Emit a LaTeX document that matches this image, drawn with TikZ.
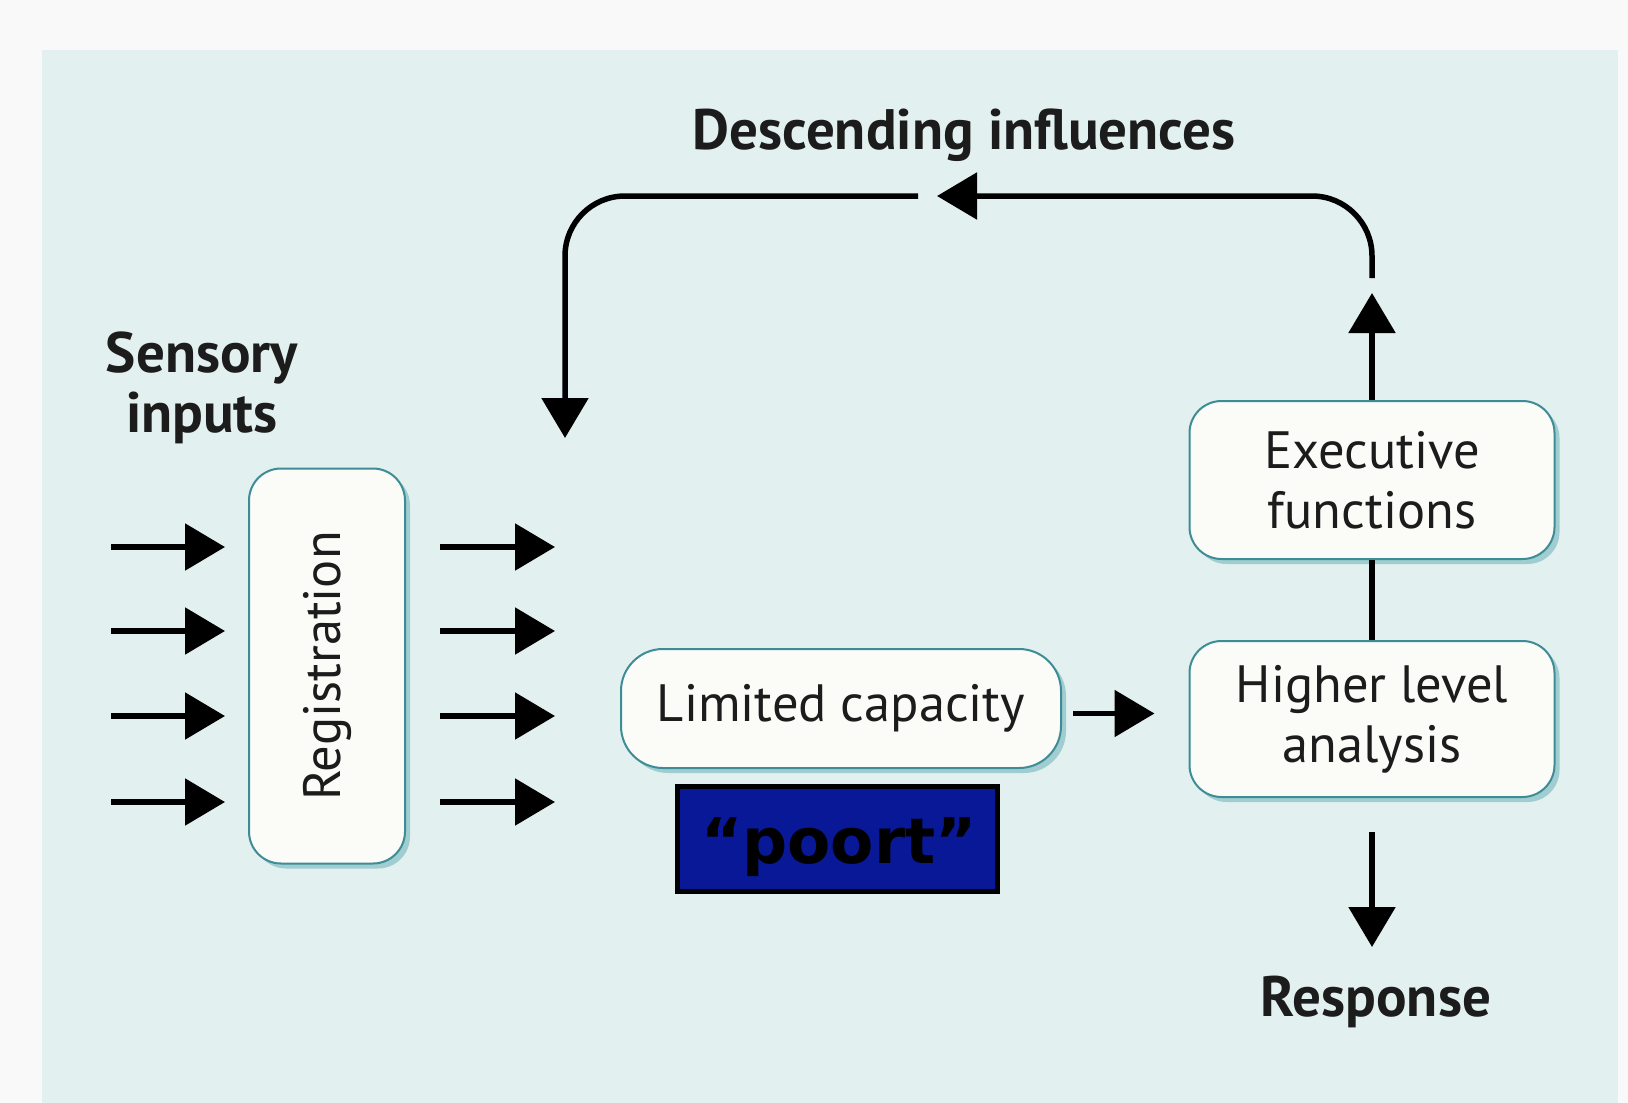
\documentclass[tikz,border=0pt]{standalone}
\usepackage{fontspec}
\setmainfont{PT Sans}
\newfontfamily\poortfont{DejaVu Sans}
\usetikzlibrary{arrows.meta,shadows}
\definecolor{panelc}{RGB}{226,240,239}
\definecolor{outerc}{RGB}{249,249,249}
\definecolor{boxfill}{RGB}{251,251,248}
\definecolor{boxborder}{RGB}{62,140,150}
\definecolor{shadowc}{RGB}{160,205,208}
\definecolor{txt}{RGB}{28,28,28}
\definecolor{poortblue}{RGB}{8,24,150}
\tikzset{
  procbox/.style={draw=boxborder, line width=2pt, fill=boxfill, rounded corners=32pt,
    align=center, inner sep=0pt, text=txt, font=\fontsize{52.5}{60}\selectfont,
    drop shadow={shadow xshift=5pt, shadow yshift=-5pt, fill=shadowc, opacity=1}},
  conn/.style={line width=5.5pt, draw=black},
  arr/.style={conn, -{Triangle[length=40pt,width=46pt]}},
  lbl/.style={font=\bfseries\fontsize{57}{60}\selectfont, align=center, text=txt},
}
\begin{document}
\begin{tikzpicture}[x=1pt,y=-1pt]
\useasboundingbox (0,0) rectangle (1628,1103);
\fill[outerc] (0,0) rectangle (1628,1103);
\fill[panelc] (42,50) rectangle (1618,1103);

% labels
\node[lbl] (desc) at (964,135) {Descending influences};
\node[lbl] (sens) at (202,388) {Sensory\\inputs};
\node[lbl] (resp) at (1376,1002) {Response};

% boxes
\node[procbox, minimum width=156pt, minimum height=395pt] (reg) at (327,666) {\rotatebox{90}{Registration}};
\node[procbox, minimum width=440pt, minimum height=119pt, rounded corners=42pt] (lim) at (841,708.5) {Limited capacity};
\node[procbox, minimum width=365pt, minimum height=156pt] (hla) at (1372,719) {Higher level\\analysis};
\node[procbox, minimum width=365pt, minimum height=158pt] (exe) at (1372,480) {Executive\\functions};
\node[draw=black, line width=5pt, fill=poortblue, minimum width=320pt, minimum height=105pt,
  inner sep=0pt] (poort) at (837,838.5) {};
\node[inner sep=0pt, text=black, font=\poortfont\bfseries\fontsize{63}{70}\selectfont] (poorttxt) at ([xshift=2pt,yshift=-9pt]poort.center) {“poort”};

% input / output arrows
\foreach \yy [count=\k] in {547,631,716,802} {
  \coordinate (inA\k) at (111,\yy);
  \coordinate (inB\k) at (225,\yy);
  \coordinate (outA\k) at (440,\yy);
  \coordinate (outB\k) at (555,\yy);
  \draw[arr] (inA\k) -- (inB\k);
  \draw[arr] (outA\k) -- (outB\k);
}

% limited capacity -> higher level
\draw[arr, shorten <=11pt, shorten >=34pt] ([yshift=-5pt]lim.east) -- ([yshift=-5pt]lim.east -| hla.west);

% higher level -- executive
\draw[conn] (hla) -- (exe);

% executive up
\coordinate (upTip) at (1372,293);
\draw[arr] (exe.north) -- (upTip);

% feedback loop
\coordinate (fbS) at (1372,278);
\coordinate (fbM) at (977,196);
\coordinate (fbT) at (937,196);
\coordinate (fbL) at (918,196);
\coordinate (fbE) at (565,438);
\draw[conn, rounded corners=60pt] (fbS) |- (fbM);
\draw[arr] (fbM) -- (fbT);
\draw[arr, rounded corners=60pt] (fbL) -| (fbE);

% response
\coordinate (respTip) at (1372,947);
\draw[arr, shorten <=34pt] (hla.south) -- (respTip);
\end{tikzpicture}
\end{document}
